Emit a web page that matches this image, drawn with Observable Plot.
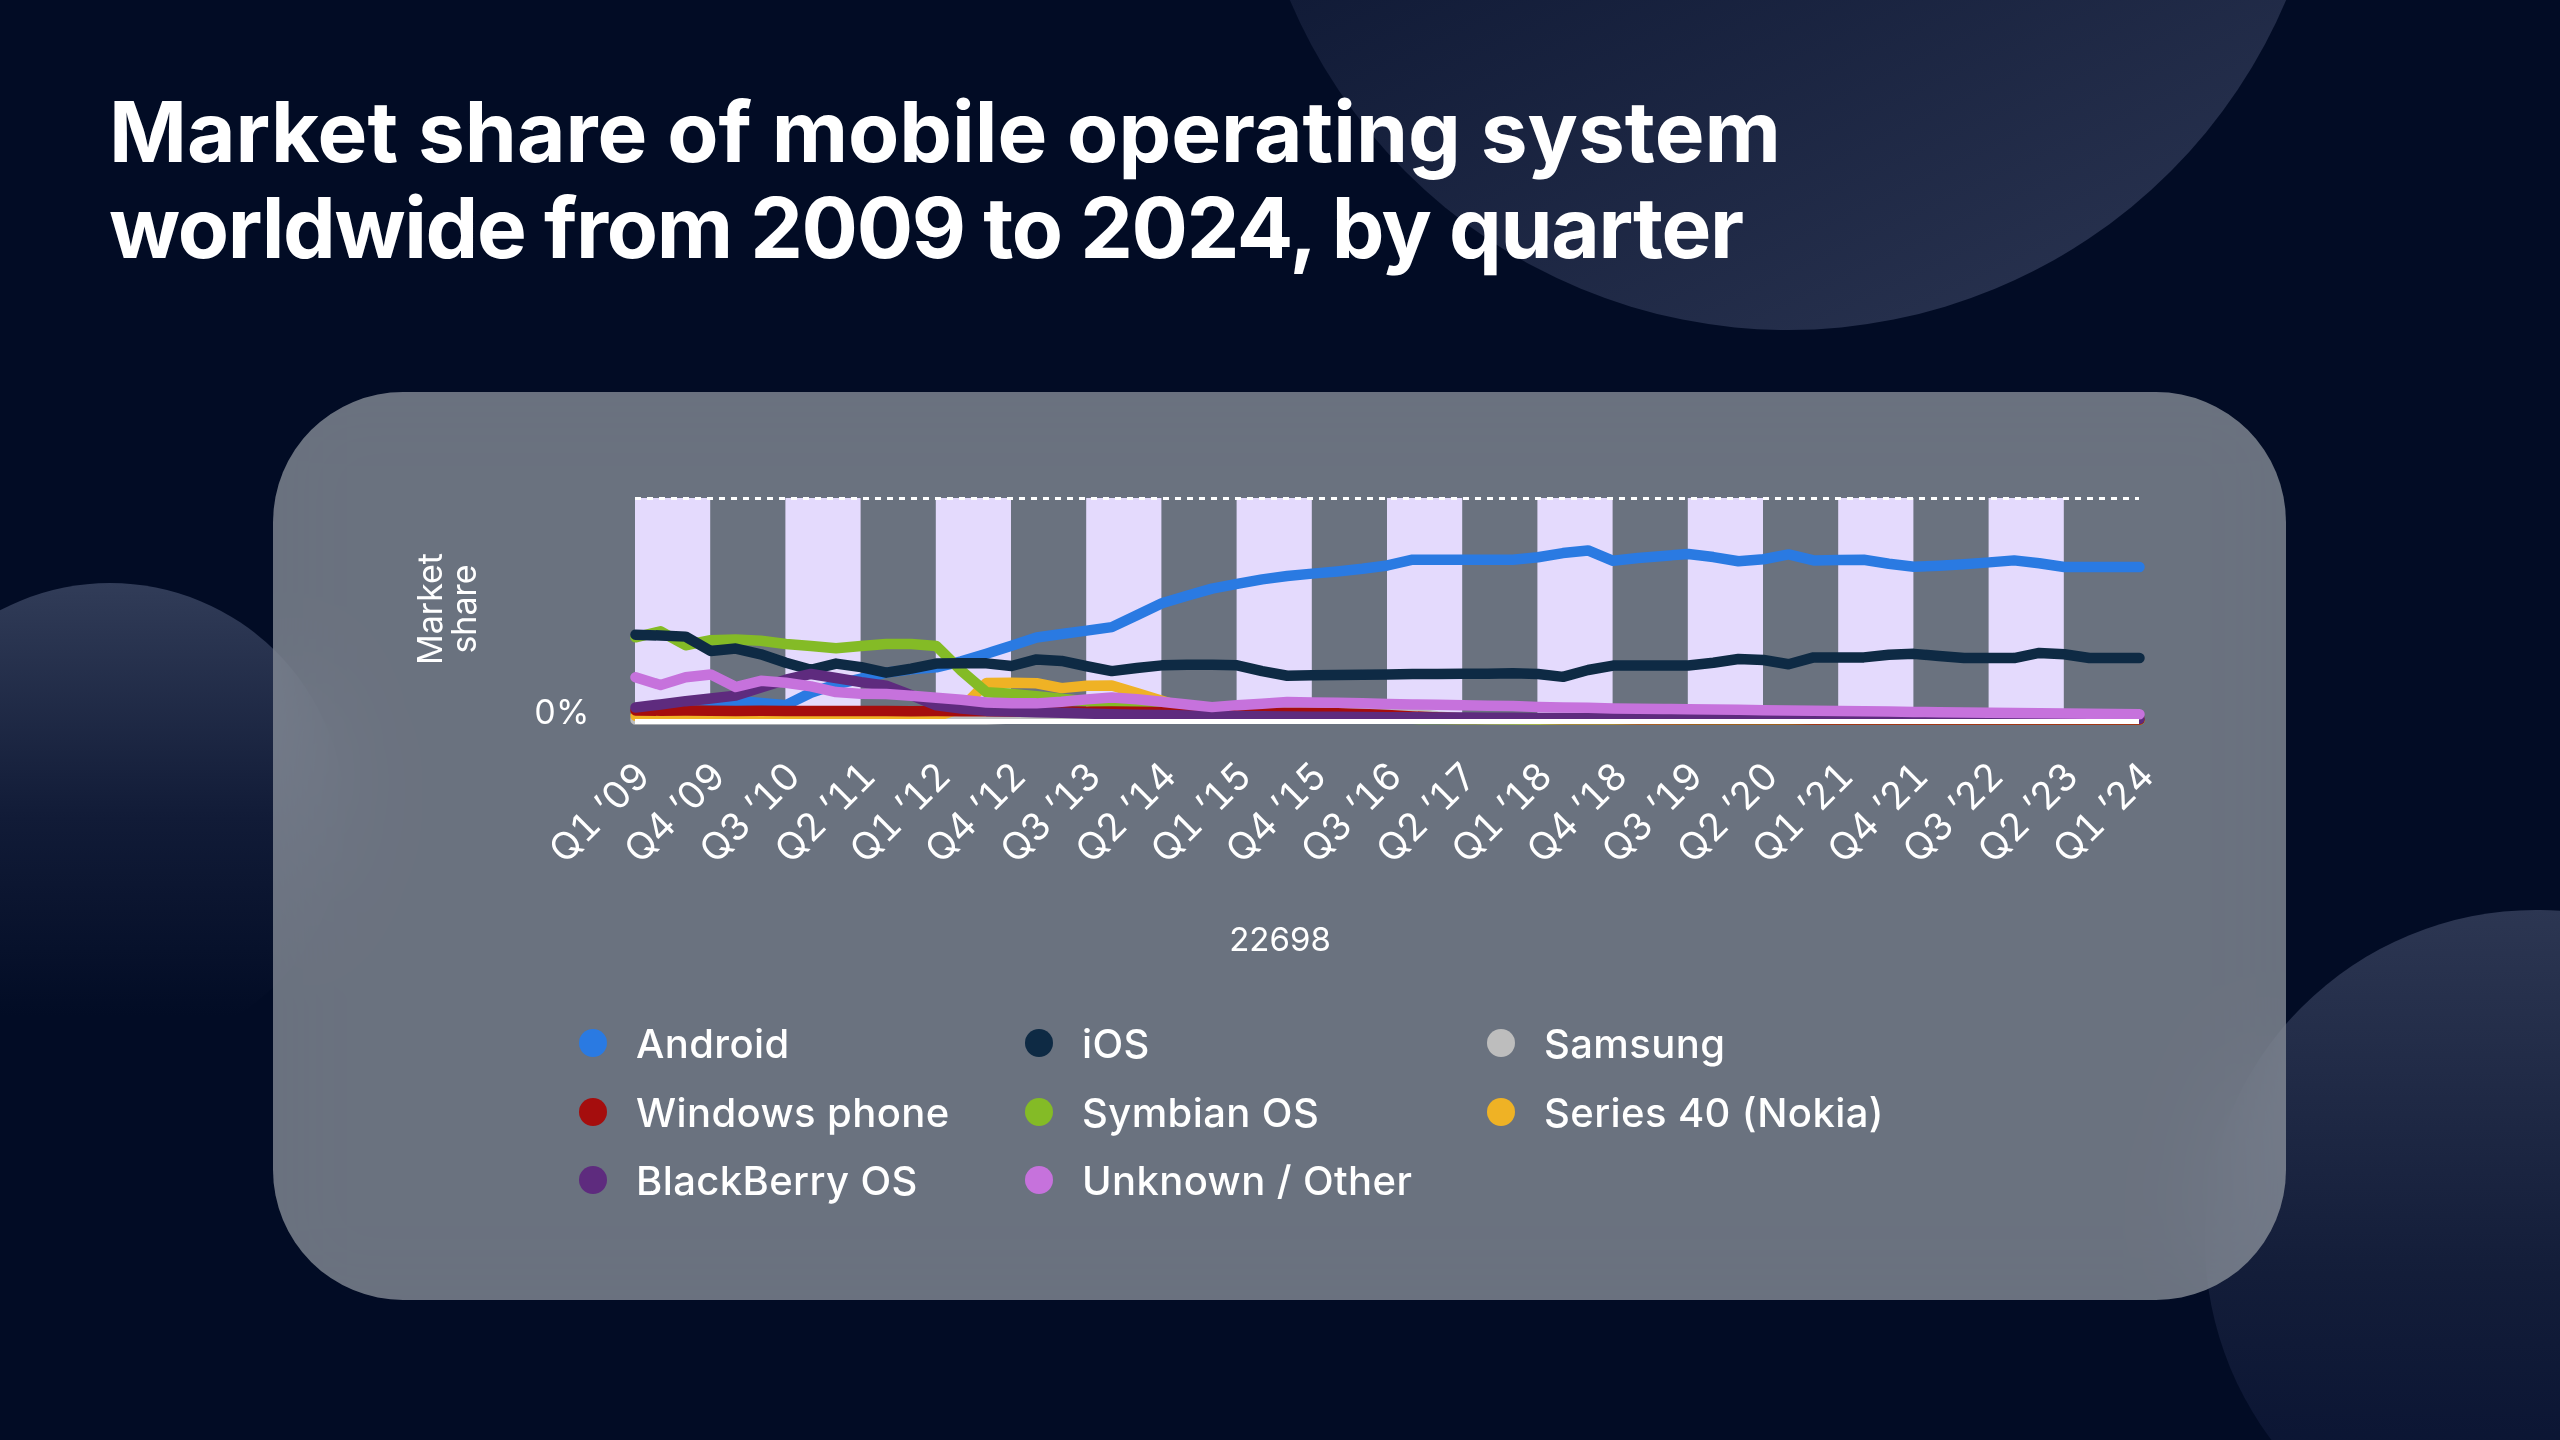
<!DOCTYPE html>
<html>
<head>
<meta charset="utf-8">
<script src="https://cdn.jsdelivr.net/npm/d3@7"></script>
<script src="https://cdn.jsdelivr.net/npm/@observablehq/plot@0.6"></script>
<style>
html, body { margin: 0; padding: 0; background: #020c25; }
#page { position: relative; width: 2560px; height: 1440px; overflow: hidden; background: #020c25; font-family: Inter, "Open Sans", sans-serif; }
.circle { position: absolute; border-radius: 50%; }
#c1 { left: 1247px; top: -752px; width: 1082px; height: 1082px; background: linear-gradient(155deg, #0a1430 35%, #2c3653 100%); }
#c2 { left: -125px; top: 583px; width: 470px; height: 470px; background: linear-gradient(180deg, #313c58 0%, #111b37 50%, #020c25 92%); }
#c3 { left: 2205px; top: 910px; width: 662px; height: 662px; background: linear-gradient(180deg, #2c3652 0%, #131d39 55%, #061030 100%); }
#card { position: absolute; left: 273px; top: 392px; width: 2013px; height: 908px; border-radius: 130px;
        background: rgba(159, 165, 173, 0.667); backdrop-filter: blur(45px); -webkit-backdrop-filter: blur(45px); }
#title { position: absolute; left: 0; top: 0; }
#chart { position: absolute; left: 273px; top: 392px; }
.lg { position: absolute; display: flex; align-items: center; height: 46px; color: #fff; font-size: 40px; font-weight: 500; letter-spacing: 0.4px; white-space: nowrap; }
.lg .dot { width: 28px; height: 28px; border-radius: 50%; margin-right: 29px; flex: none; }
</style>
</head>
<body>
<div id="page">
  <div class="circle" id="c1"></div>
  <div class="circle" id="c2"></div>
  <div class="circle" id="c3"></div>
  <svg id="title" width="2560" height="320">
    <text id="t1" x="109" y="162" fill="#fff" font-family="Inter, sans-serif" font-weight="700" font-size="80">Market share of mobile operating system</text>
    <text id="t2" x="109" y="258" fill="#fff" font-family="Inter, sans-serif" font-weight="700" font-size="80">worldwide from 2009 to 2024, by quarter</text>
  </svg>
  <div id="card"></div>
  <div id="chart"></div>
  <div id="legend"></div>
</div>
<script>
// ---- data ----
const quarters = [
  "Q1 ’09","Q2 ’09","Q3 ’09","Q4 ’09","Q1 ’10","Q2 ’10","Q3 ’10","Q4 ’10",
  "Q1 ’11","Q2 ’11","Q3 ’11","Q4 ’11","Q1 ’12","Q2 ’12","Q3 ’12","Q4 ’12",
  "Q1 ’13","Q2 ’13","Q3 ’13","Q4 ’13","Q1 ’14","Q2 ’14","Q3 ’14","Q4 ’14",
  "Q1 ’15","Q2 ’15","Q3 ’15","Q4 ’15","Q1 ’16","Q2 ’16","Q3 ’16","Q4 ’16",
  "Q1 ’17","Q2 ’17","Q3 ’17","Q4 ’17","Q1 ’18","Q2 ’18","Q3 ’18","Q4 ’18",
  "Q1 ’19","Q2 ’19","Q3 ’19","Q4 ’19","Q1 ’20","Q2 ’20","Q3 ’20","Q4 ’20",
  "Q1 ’21","Q2 ’21","Q3 ’21","Q4 ’21","Q1 ’22","Q2 ’22","Q3 ’22","Q4 ’22",
  "Q1 ’23","Q2 ’23","Q3 ’23","Q4 ’23","Q1 ’24"
];
const tickLabels = ["Q1 ’09","Q4 ’09","Q3 ’10","Q2 ’11","Q1 ’12","Q4 ’12","Q3 ’13","Q2 ’14","Q1 ’15","Q4 ’15","Q3 ’16","Q2 ’17","Q1 ’18","Q4 ’18","Q3 ’19","Q2 ’20","Q1 ’21","Q4 ’21","Q3 ’22","Q2 ’23","Q1 ’24"];

const android = [1.5,2.5,4.5,7.5,8.5,7.5,6.5,12.1,15.9,18.5, 21.2,22.7,23.6,26.3,29.8,33.4,37.1,38.7,40.2,41.8, 47.2,52.6,56.0,59.2,61.4,63.4,64.9,66.0,67.0,68.2, 69.7,72.3,72.3,72.3,72.3,72.3,73.4,75.3,76.5,71.8, 73.1,74.0,74.9,73.5,71.6,72.5,74.7,72.0,72.2,72.3, 70.5,69.1,69.6,70.3,71.1,72.0,70.7,69.0,69.0,69.0,69.0];
const ios = [38.4,38.0,37.5,31.0,32.1,29.5,25.7,22.5,25.3,23.7, 21.2,23.0,25.3,25.4,25.4,24.2,27.2,26.5,24.1,21.9, 23.3,24.5,24.8,24.8,24.5,21.9,19.8,20.0,20.1,20.3, 20.4,20.6,20.6,20.7,20.7,20.9,20.6,19.3,22.4,24.4, 24.4,24.4,24.4,25.7,27.4,26.9,25.0,28.1,28.1,28.1, 29.3,29.7,28.7,27.8,27.8,27.8,30.1,29.5,27.8,27.8,27.8];
const samsung = [0,0,0,0,0,0,0,0,0,0, 0,0,0,0,0,0.4,1.1,1.6,2.1,2.7, 3.1,3.6,4.0,4.5,4.7,4.8,4.8,4.7,4.8,4.6, 4.4,3.0,1.4,0.5,0.2,0.1,0,0,0,0, 0,0,0,0,0,0,0,0,0,0, 0,0,0,0,0,0,0,0,0,0,0];
const windowsPhone = [4.1,4.0,4.1,4.0,3.9,4.0,3.9,3.8,3.9,3.8, 3.8,3.7,3.8,3.7,3.7,3.6,3.7,3.6,3.5,3.6, 3.5,3.4,3.4,3.3,3.3,3.2,3.1,3.0,2.8,2.5, 2.0,1.4,0.9,0.6,0.4,0.3,0.3,0.2,0.2,0.2, 0.1,0.1,0.1,0.1,0.1,0.1,0.1,0,0,0, 0,0,0,0,0,0,0,0,0,0,0];
const symbian = [37.2,39.9,33.6,35.9,36.2,35.6,34.2,33.3,32.2,33.3, 34.2,34.2,33.3,22.1,12.3,11.6,10.5,9.4,8.2,7.0, 5.5,3.8,2.8,2.1,1.6,1.2,0.9,0.7,0.5,0.4, 0.3,0.3,0.2,0.2,0.2,0.1,0.1,0.1,0.1,0.1, 0.1,0.1,0,0,0,0,0,0,0,0, 0,0,0,0,0,0,0,0,0,0,0];
const series40 = [1.7,1.7,1.6,1.6,1.6,1.5,1.5,1.5,1.5,1.4, 1.4,1.4,1.5,5.0,16.5,16.6,16.4,14.2,15.3,15.4, 12.0,8.5,5.0,3.0,2.0,1.5,1.1,0.8,0.6,0.5, 0.4,0.3,0.3,0.2,0.2,0.2,0.1,0.1,0.1,0.1, 0.1,0,0,0,0,0,0,0,0,0, 0,0,0,0,0,0,0,0,0,0,0];
const blackberry = [5.4,6.8,8.3,9.5,10.8,14.5,18.0,20.6,18.8,16.9, 15.3,11.0,6.4,5.0,3.9,3.6,3.3,3.0,2.7,2.4, 2.2,2.0,1.8,1.7,1.6,1.5,1.4,1.3,1.2,1.1, 1.0,1.0,0.9,0.9,0.8,0.8,0.7,0.7,0.6,0.6, 0.6,0.5,0.5,0.5,0.5,0.5,0.4,0.4,0.4,0.4, 0.4,0.4,0.3,0.3,0.3,0.3,0.3,0.3,0.3,0.3,0.3];
const other = [19.1,15.6,19.1,20.4,14.7,17.5,16.6,15.0,12.4,11.6, 11.5,10.7,9.8,8.9,7.7,7.3,7.3,8.0,9.1,10.0, 9.2,8.0,6.8,5.6,6.5,7.1,7.9,7.7,7.6,7.3, 7.0,6.8,6.7,6.4,6.2,6.1,5.7,5.4,5.3,5.0, 4.9,4.8,4.6,4.5,4.4,4.2,4.1,4.0,3.8,3.7, 3.6,3.4,3.3,3.2,3.0,2.9,2.8,2.7,2.6,2.5,2.4];

const seriesNames = ["Android","iOS","Samsung","Windows phone","Symbian OS","Series 40 (Nokia)","BlackBerry OS","Unknown / Other"];
const seriesColors = ["#2a7ae2","#0e2a44","#bdbdbd","#a50d0d","#84bb26","#efb225","#5e2b7e","#c672dc"];
const seriesValues = [android, ios, samsung, windowsPhone, symbian, series40, blackberry, other];
// drawing order (bottom to top)
const drawOrder = ["Android","Samsung","Series 40 (Nokia)","Symbian OS","iOS","Windows phone","BlackBerry OS","Unknown / Other"];

// ---- build tidy rows ----
const rows = [];
for (const name of drawOrder) {
  const k = seriesNames.indexOf(name);
  seriesValues[k].forEach((v, i) => rows.push({series: name, i, v}));
}
const tickIdx = tickLabels.map(t => quarters.indexOf(t));
const bands = [];
for (let j = 0; j + 1 < tickIdx.length; j += 2) bands.push({x1: tickIdx[j], x2: tickIdx[j + 1]});

// ---- chart ----
const W = 2013, H = 620;
const mL = 362, mR = 147, mT = 106, mB = 293;
const frameCx = mL + (W - mL - mR) / 2;
const chart = Plot.plot({
  width: W, height: H,
  marginLeft: mL, marginRight: mR, marginTop: mT, marginBottom: mB,
  style: {background: "transparent", fontFamily: "Inter, sans-serif", fontSize: "34px", color: "#fff", overflow: "visible"},
  x: {type: "linear", domain: [0, quarters.length - 1]},
  y: {domain: [0, 100]},
  color: {domain: seriesNames, range: seriesColors},
  marks: [
    Plot.rect(bands, {x1: "x1", x2: "x2", y1: 0, y2: 100, fill: "#e4dafd"}),
    Plot.ruleY([100], {stroke: "#fff", strokeWidth: 3, strokeDasharray: "6,6"}),
    Plot.line(rows, {x: "i", y: "v", z: "series", stroke: "series", strokeWidth: 10.5, strokeLinecap: "round", strokeLinejoin: "round"}),
    Plot.ruleY([0], {stroke: "#fff", strokeWidth: 5, dy: 2}),
    Plot.axisX({ticks: tickIdx, tickFormat: i => quarters[i], tickRotate: -45, tickSize: 0, tickPadding: 50, dx: 8, fontSize: 38, fill: "#fff", label: null}),
    Plot.axisY({ticks: [0], tickFormat: d => d + "%", tickSize: 0, tickPadding: 46, dy: -6, fontSize: 34, fill: "#fff", label: null}),
    Plot.text(["Market\nshare"], {text: d => d, frameAnchor: "left", textAnchor: "middle", dx: -187, rotate: -90, fontSize: 34, lineHeight: 1.0, fill: "#fff"}),
    Plot.text(["22698"], {text: d => d, frameAnchor: "bottom", dx: W / 2 - frameCx, dy: 231, fontSize: 33, fill: "#fff"})
  ]
});
document.getElementById("chart").appendChild(chart);

// ---- legend ----
const legendCols = [593, 1039, 1501];
const legendRows = [1043, 1112, 1180];
const legend = document.getElementById("legend");
seriesNames.forEach((name, k) => {
  const el = document.createElement("div");
  el.className = "lg";
  el.style.left = (legendCols[k % 3] - 14) + "px";
  el.style.top = (legendRows[Math.floor(k / 3)] - 23) + "px";
  const dot = document.createElement("span");
  dot.className = "dot";
  dot.style.background = seriesColors[k];
  const txt = document.createElement("span");
  txt.textContent = name;
  el.appendChild(dot); el.appendChild(txt);
  legend.appendChild(el);
});

// ---- fit title widths ----
const t1 = document.getElementById("t1"), t2 = document.getElementById("t2");
const w1 = t1.getComputedTextLength();
const fs = 80 * 1672 / w1;
t1.setAttribute("font-size", fs.toFixed(1));
t2.setAttribute("font-size", fs.toFixed(1));
t2.setAttribute("textLength", "1635");
t2.setAttribute("lengthAdjust", "spacing");
</script>
</body>
</html>
